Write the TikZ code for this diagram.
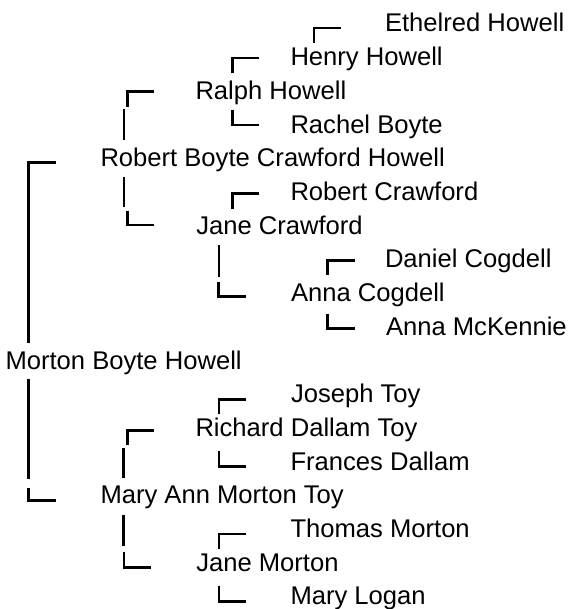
\documentclass[tikz,border=0pt]{standalone}
\usepackage{fontspec}
\setmainfont{Liberation Sans}
\begin{document}
\begin{tikzpicture}[x=1pt,y=-1pt,
  person/.style={anchor=base west,inner sep=0pt,outer sep=0pt,font=\fontsize{25.6}{30}\selectfont},
  tree/.style={line width=2.5pt,black,line join=miter,line cap=butt}]
\useasboundingbox (0,0) rectangle (573,609);
% people
\node[person] (ethelred) at (385,32) {Ethelred Howell};
\node[person] (henry)    at (290.5,65.7) {Henry Howell};
\node[person] (ralph)    at (195.5,99.4) {Ralph Howell};
\node[person] (rachel)   at (290.5,133.1) {Rachel Boyte};
\node[person] (rbch)     at (100.5,166.8) {Robert Boyte Crawford Howell};
\node[person] (robertc)  at (290.5,200.5) {Robert Crawford};
\node[person] (janec)    at (196.3,234.2) {Jane Crawford};
\node[person] (daniel)   at (385,267.9) {Daniel Cogdell};
\node[person] (annac)    at (291,301.6) {Anna Cogdell};
\node[person] (annam)    at (386,335.3) {Anna McKennie};
\node[person] (mbh)      at (5.5,369) {Morton Boyte Howell};
\node[person] (joseph)   at (291,402.7) {Joseph Toy};
\node[person] (richard)  at (195.5,436.4) {Richard Dallam Toy};
\node[person] (frances)  at (290.5,470.1) {Frances Dallam};
\node[person] (mamt)     at (100.5,503.8) {Mary Ann Morton Toy};
\node[person] (thomas)   at (290.5,537.5) {Thomas Morton};
\node[person] (janem)    at (196.3,571.2) {Jane Morton};
\node[person] (logan)    at (290.5,604.9) {Mary Logan};
% connector end points
\coordinate (mbhF1) at (28.5,343.3);  \coordinate (mbhF2) at (56,162.7);
\coordinate (mbhM1) at (28.5,379.3);  \coordinate (mbhM2) at (28.5,479);
\coordinate (mbhM3) at (28.5,487.5);  \coordinate (mbhM4) at (56,500.7);
\coordinate (rbchF1) at (127.7,106.7); \coordinate (rbchF2) at (154.3,91.7);
\coordinate (rbchF3) at (124,109.3);   \coordinate (rbchF4) at (124,140);
\coordinate (rbchM1) at (124,176.7);   \coordinate (rbchM2) at (124,206.7);
\coordinate (rbchM3) at (127.7,210.7); \coordinate (rbchM4) at (154.3,225);
\coordinate (ralphF1) at (232.5,73.3); \coordinate (ralphF2) at (259.3,58);
\coordinate (ralphM1) at (232.5,110);  \coordinate (ralphM2) at (259.3,125);
\coordinate (henryF1) at (314,42.7);   \coordinate (henryF2) at (341,28);
\coordinate (janecF1) at (232.3,209);  \coordinate (janecF2) at (259.3,193.7);
\coordinate (janecM1) at (219,245);    \coordinate (janecM2) at (219,276.7);
\coordinate (janecM3) at (218.5,281.7);\coordinate (janecM4) at (246,296.7);
\coordinate (annacF1) at (327.7,275);  \coordinate (annacF2) at (355,260.3);
\coordinate (annacM1) at (327.7,313.5);\coordinate (annacM2) at (355,328.3);
\coordinate (mamtF1) at (127.7,445);   \coordinate (mamtF2) at (154.3,430.3);
\coordinate (mamtF3) at (123.7,447.7); \coordinate (mamtF4) at (123.7,478.3);
\coordinate (mamtM1) at (123.7,515);   \coordinate (mamtM2) at (123.7,546);
\coordinate (mamtM3) at (124.2,551.7); \coordinate (mamtM4) at (150.7,567.3);
\coordinate (richF1) at (219,414.3);   \coordinate (richF2) at (246,399.7);
\coordinate (richM1) at (219,450.7);   \coordinate (richM2) at (246,466.7);
\coordinate (janemF1) at (219,549.3);  \coordinate (janemF2) at (246,534);
\coordinate (janemM1) at (219,586);    \coordinate (janemM2) at (246,601.3);
% connectors
\draw[tree] (mbhF1) |- (mbhF2);
\draw[tree] (mbhM1) -- (mbhM2);
\draw[tree] (mbhM3) |- (mbhM4);
\draw[tree] (rbchF1) |- (rbchF2);
\draw[tree] (rbchF3) -- (rbchF4);
\draw[tree] (rbchM1) -- (rbchM2);
\draw[tree] (rbchM3) |- (rbchM4);
\draw[tree] (ralphF1) |- (ralphF2);
\draw[tree] (ralphM1) |- (ralphM2);
\draw[tree] (henryF1) |- (henryF2);
\draw[tree] (janecF1) |- (janecF2);
\draw[tree] (janecM1) -- (janecM2);
\draw[tree] (janecM3) |- (janecM4);
\draw[tree] (annacF1) |- (annacF2);
\draw[tree] (annacM1) |- (annacM2);
\draw[tree] (mamtF1) |- (mamtF2);
\draw[tree] (mamtF3) -- (mamtF4);
\draw[tree] (mamtM1) -- (mamtM2);
\draw[tree] (mamtM3) |- (mamtM4);
\draw[tree] (richF1) |- (richF2);
\draw[tree] (richM1) |- (richM2);
\draw[tree] (janemF1) |- (janemF2);
\draw[tree] (janemM1) |- (janemM2);
\end{tikzpicture}
\end{document}
